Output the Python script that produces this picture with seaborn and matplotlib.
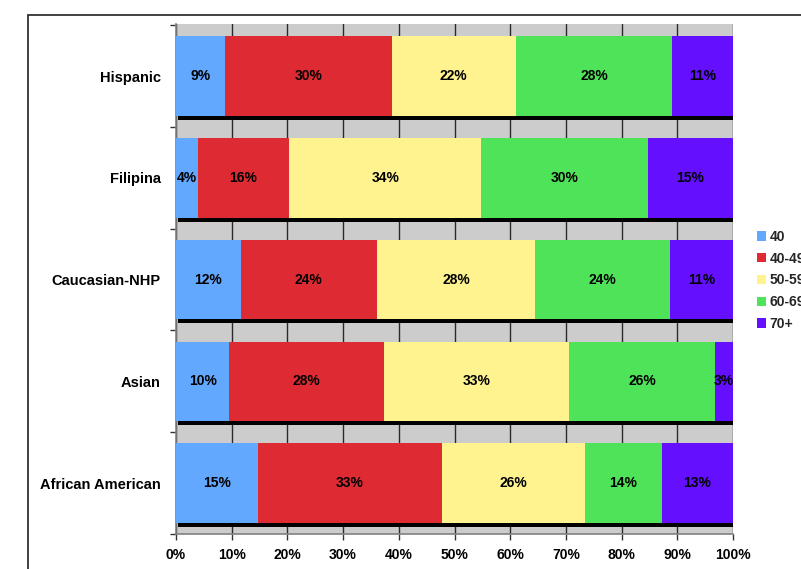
import numpy as np
import pandas as pd
import matplotlib
matplotlib.use("Agg")
import matplotlib.pyplot as plt
import matplotlib.patches as mpatches
import matplotlib.patheffects as pe
import seaborn as sns

categories = ["Hispanic", "Filipina", "Caucasian-NHP", "Asian", "African American"]
age_groups = ["40", "40-49", "50-59", "60-69", "70+"]
v_40 = [8.8, 3.9, 11.6, 9.6, 14.8]
v_40_49 = [29.9, 16.4, 24.4, 27.7, 32.9]
v_50_59 = [22.3, 34.5, 28.5, 33.3, 25.8]
v_60_69 = [28.1, 29.9, 24.1, 26.1, 13.7]
v_70p = [10.9, 15.3, 11.4, 3.3, 12.8]
colors = ["#63A8FF", "#DE2B33", "#FFF38F", "#4FE35A", "#6410FF"]
x_ticks = [0, 10, 20, 30, 40, 50, 60, 70, 80, 90, 100]

series = [v_40, v_40_49, v_50_59, v_60_69, v_70p]
vals = np.array(series)            # groups x categories
cum = np.cumsum(vals, axis=0)

sns.set_theme(style="white")
plt.rcParams["font.family"] = ["Liberation Sans", "DejaVu Sans"]
plt.rcParams["font.weight"] = "bold"

fig = plt.figure(figsize=(8.01, 5.69), dpi=100)
ax = fig.add_axes([176 / 801, 1 - 534 / 569, (733 - 176) / 801, (534 - 24) / 569])
ax.set_facecolor("#CCCCCC")

# outer chart frame (cropped)
fig.add_artist(plt.Line2D([28 / 801, 28 / 801], [-0.1, 1 - 14.5 / 569],
                          transform=fig.transFigure, color="#333333", lw=1.3))
fig.add_artist(plt.Line2D([28 / 801, 1.1], [1 - 14.5 / 569, 1 - 14.5 / 569],
                          transform=fig.transFigure, color="#333333", lw=1.3))

# stacked bars via cumulative totals, largest first
for i in range(len(series) - 1, -1, -1):
    df = pd.DataFrame({"cat": categories, "val": cum[i]})
    n_before = len(ax.patches)
    sns.barplot(data=df, x="val", y="cat", orient="h", color=colors[i],
                saturation=1, width=0.78, linewidth=0, ax=ax, zorder=3)
    if i == len(series) - 1:
        for p in ax.patches[n_before:]:
            p.set_path_effects([pe.SimplePatchShadow(offset=(1.5, -3.0),
                                                     shadow_rgbFace="black", alpha=1.0),
                                pe.Normal()])

# segment labels
for i in range(len(series)):
    for j, cat in enumerate(categories):
        center = cum[i][j] - vals[i][j] / 2
        ax.text(center, j, f"{vals[i][j]:.0f}%", ha="center", va="center",
                fontsize=10, fontweight="bold", color="black", zorder=5)

ax.set_xlim(0, 100)
ax.set_ylim(len(categories) - 0.5 - 0.012, -0.5 - 0.012)
ax.set_xticks(x_ticks)
ax.set_xticklabels([f"{t}%" for t in x_ticks], fontsize=10, fontweight="bold")
ax.set_xlabel("")
ax.set_ylabel("")
ax.set_yticks(range(len(categories)))
ax.set_yticklabels(categories, fontsize=10.5, fontweight="bold")
ax.set_yticks(np.arange(-0.5, len(categories), 1.0), minor=True)
ax.tick_params(axis="y", which="major", length=0, pad=11)
ax.tick_params(axis="y", which="minor", length=4, width=1, color="#333333", left=True)
ax.tick_params(axis="x", which="major", length=4, width=1, color="#333333",
               bottom=True, pad=6, direction="out")
for t in ax.get_xticklabels() + ax.get_yticklabels():
    t.set_color("black")

ax.xaxis.grid(True, color="#2A2A2A", linewidth=1.0, zorder=1)
ax.yaxis.grid(False)
ax.set_axisbelow(True)
for s in ["top", "right"]:
    ax.spines[s].set_visible(False)
ax.spines["left"].set_color("#808080")
ax.spines["bottom"].set_color("#808080")
ax.spines["left"].set_linewidth(1.2)
ax.spines["bottom"].set_linewidth(1.2)

handles = [mpatches.Patch(facecolor=c, edgecolor="none", label=g)
           for c, g in zip(colors, age_groups)]
leg = fig.legend(handles=handles, loc="upper left",
                 bbox_to_anchor=(754 / 801, 1 - 227 / 569),
                 frameon=False, fontsize=10, handlelength=0.65, handleheight=0.65,
                 handletextpad=0.25, labelspacing=0.56, borderaxespad=0, borderpad=0.2)
for t in leg.get_texts():
    t.set_fontweight("bold")

fig.savefig("out.png", dpi=100)
